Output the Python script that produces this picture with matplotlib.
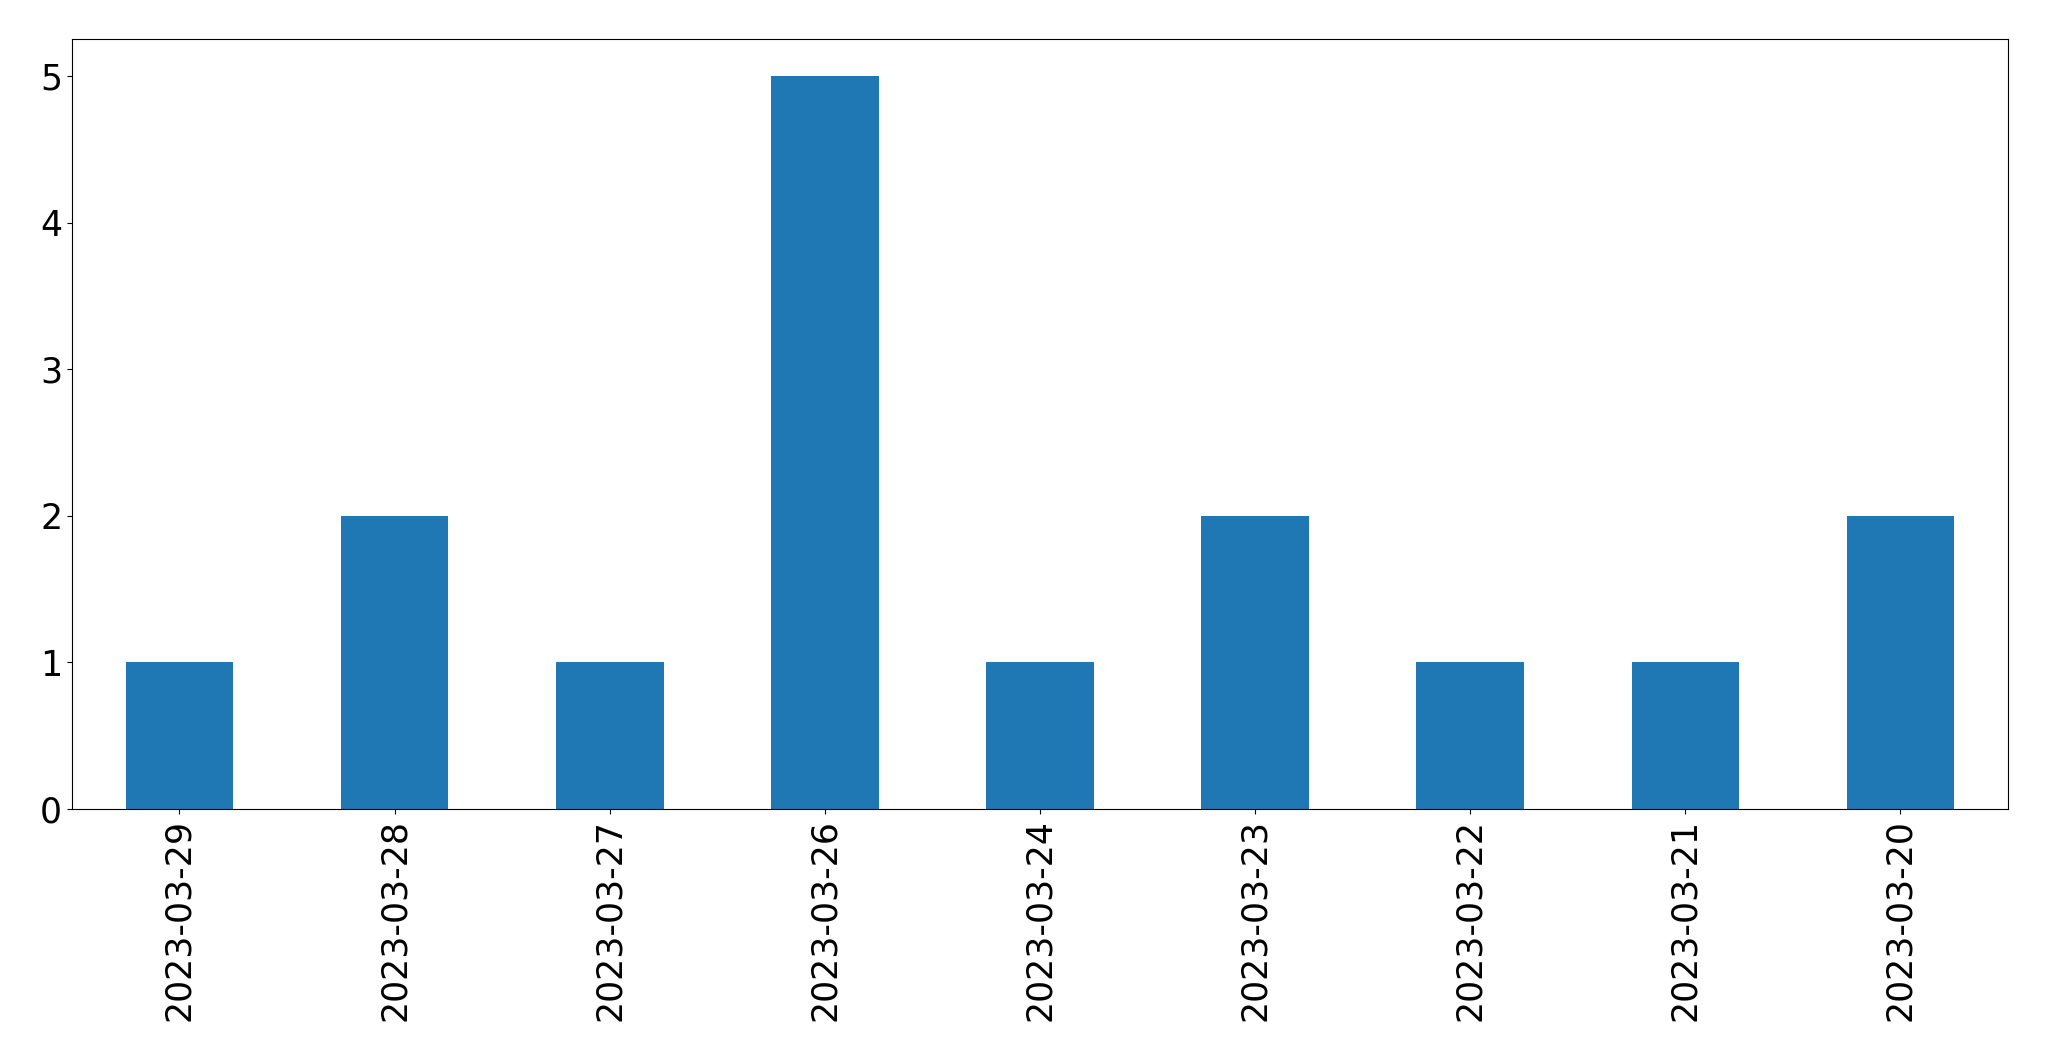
import matplotlib
matplotlib.use("Agg")
import matplotlib.pyplot as plt

dates = ["2023-03-29", "2023-03-28", "2023-03-27", "2023-03-26", "2023-03-24",
         "2023-03-23", "2023-03-22", "2023-03-21", "2023-03-20"]
counts = [1, 2, 1, 5, 1, 2, 1, 1, 2]

fig = plt.figure(figsize=(20.49, 10.61), dpi=100)
ax = fig.add_subplot(111)
fig.subplots_adjust(left=0.0351, right=0.980, top=0.963, bottom=0.2375)

x = range(len(dates))
ax.bar(x, counts, width=0.5, color="#1f77b4")
ax.set_xticks(list(x))
ax.set_xticklabels(dates, rotation=90)
ax.set_xlim(-0.5, len(dates) - 0.5)
ax.tick_params(labelsize=25)

fig.savefig("out.png", dpi=100)
